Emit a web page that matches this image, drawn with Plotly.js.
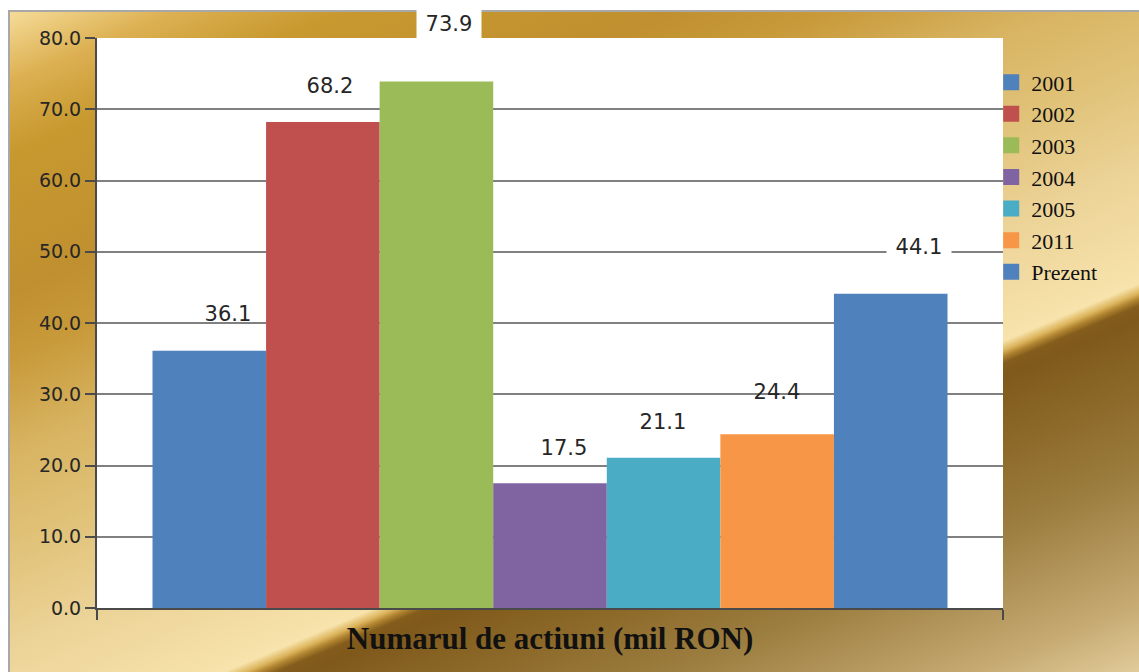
<!DOCTYPE html>
<html>
<head>
<meta charset="utf-8">
<script src="https://cdn.plot.ly/plotly-3.0.1.min.js"></script>
<style>
  html, body { margin: 0; padding: 0; width: 1139px; height: 672px; overflow: hidden; background: #ffffff; }
  #frame {
    position: absolute; left: 8px; top: 10px; width: 1150px; height: 680px;
    border: 2px solid #a8a8a8; box-sizing: border-box;
    background: linear-gradient(157deg, #f5dc98 0%, #dcb052 6%, #c8992f 12%, #c09030 24%, #c89a3a 30%, #d8b462 38%, #e0c278 46%, #ecd398 55%, #f3dda4 61%, #f7e3ab 64.6%, #dcb45c 65.4%, #b08430 65.9%, #845c1c 66.5%, #7f591b 67.6%, #8d6a2a 74%, #9c7e40 81%, #c6aa72 92%, #ead6a8 100%);
  }
  #chart { position: absolute; left: 0; top: 0; width: 1139px; height: 672px; }
</style>
</head>
<body>
<div id="frame"></div>
<div id="chart"></div>
<script>
// ---- data ----
const categories = ['2001', '2002', '2003', '2004', '2005', '2011', 'Prezent'];
const values = [36.1, 68.2, 73.9, 17.5, 21.1, 24.4, 44.1];
const axisTitle = 'Numarul de actiuni (mil RON)';

// ---- styles ----
const colors = ['#4f81bd', '#c0504d', '#9bbb59', '#8064a2', '#4bacc6', '#f79646', '#4f81bd'];
const labelDx = [19, 7, 13, 14, -1, 0, 28];
const labelDy = [37, 36, 57, 35, 36, 42, 47];
const labelBg = [null, null, 'white', null, null, null, 'white'];
const bargap = 0.1225;

const traces = [];
categories.forEach((c, i) => {
  traces.push({
    type: 'bar', name: c, x: [0], y: [values[i]],
    marker: { color: colors[i], line: { width: 0 } },
    showlegend: false, hoverinfo: 'y'
  });
});
// legend entries (square swatches)
categories.forEach((c, i) => {
  traces.push({
    type: 'scatter', mode: 'markers', name: c, x: [null], y: [null],
    marker: { symbol: 'square', size: 16, color: colors[i], line: { width: 0 } },
    showlegend: true, hoverinfo: 'skip'
  });
});

const n = categories.length;
const groupW = 1 - bargap;
const annotations = values.map((v, i) => {
  const a = {
    x: -groupW / 2 + (i + 0.5) * groupW / n, y: v, xref: 'x', yref: 'y',
    text: v.toFixed(1), showarrow: false,
    xshift: labelDx[i], yshift: labelDy[i], yanchor: 'middle', xanchor: 'center',
    width: 60, borderpad: 2,
    font: { family: 'DejaVu Sans', size: 21, color: '#262626' }
  };
  if (labelBg[i]) a.bgcolor = labelBg[i];
  return a;
});

const layout = {
  width: 1139, height: 672,
  margin: { l: 97, r: 136, t: 38, b: 64 },
  paper_bgcolor: 'rgba(0,0,0,0)',
  plot_bgcolor: '#ffffff',
  barmode: 'group', bargap: bargap, bargroupgap: 0,
  showlegend: true,
  legend: {
    x: 0.987, xanchor: 'left', y: 0.959, yanchor: 'top',
    bgcolor: 'rgba(0,0,0,0)', borderwidth: 0,
    font: { family: 'Liberation Serif', size: 22, color: '#111' },
    itemclick: false, itemdoubleclick: false
  },
  xaxis: {
    type: 'linear', range: [-0.5, 0.5], fixedrange: true,
    tickmode: 'array', tickvals: [-0.5, 0.5], ticktext: ['', ''],
    ticks: 'outside', ticklen: 10, tickwidth: 2, tickcolor: '#4a4a4a',
    showticklabels: false, showgrid: false, zeroline: false,
    showline: true, linecolor: '#4a4a4a', linewidth: 2,
    title: { text: '<b>' + axisTitle + '</b>', standoff: 8,
             font: { family: 'Liberation Serif', size: 31, color: '#111' } }
  },
  yaxis: {
    range: [0, 80], dtick: 10, tickformat: '.1f', fixedrange: true,
    ticks: 'outside', ticklen: 10, tickwidth: 2, tickcolor: '#4a4a4a',
    showline: true, linecolor: '#4a4a4a', linewidth: 2,
    showgrid: true, gridcolor: '#808080', gridwidth: 2, zeroline: false,
    tickfont: { family: 'DejaVu Sans', size: 19, color: '#262626' }
  },
  annotations: annotations
};

Plotly.newPlot('chart', traces, layout, { displayModeBar: false, staticPlot: true });
</script>
</body>
</html>
